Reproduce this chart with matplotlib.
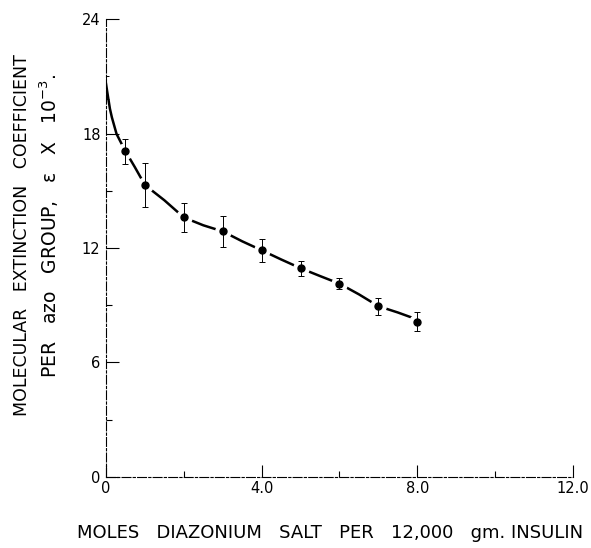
import matplotlib.pyplot as plt
import numpy as np

# Measured points (moles diazonium salt vs extinction coefficient x 10^-3)
moles = [0.0, 0.5, 1.0, 2.0, 3.0, 4.0, 5.0, 6.0, 7.0, 8.0]
eps = [20.4, 17.07, 15.3, 13.6, 12.87, 11.88, 10.94, 10.13, 8.95, 8.13]
eps_err = [0.6, 0.65, 1.15, 0.75, 0.8, 0.6, 0.4, 0.3, 0.45, 0.5]

# Smooth curve
curve_x = [0.0, 0.03, 0.1, 0.15, 0.27, 0.4, 0.5, 0.74, 1.0, 1.5, 2.0, 2.5, 3.0,
           3.5, 4.0, 4.5, 5.0, 5.5, 6.0, 6.5, 7.0, 7.5, 8.0]
curve_y = [20.6, 20.2, 19.3, 18.85, 17.98, 17.46, 17.07, 16.24, 15.3, 14.5, 13.6,
           13.19, 12.87, 12.35, 11.88, 11.4, 10.94, 10.53, 10.13, 9.57, 8.95, 8.62, 8.25]

xticks = [0, 4, 8, 12]
xtick_labels = ["0", "4.0", "8.0", "12.0"]
yticks = [0, 6, 12, 18, 24]

fig = plt.figure(figsize=(5.91, 5.48), dpi=100)
ax = fig.add_axes([0.1794, 0.1296, 0.7901, 0.8357])

ax.plot(curve_x, curve_y, color="black", linewidth=1.8, zorder=2)
# white halo so the curve breaks around each point
ax.plot(moles[1:], eps[1:], "o", color="white", markersize=11, zorder=3)
ax.errorbar(moles, eps, yerr=eps_err, fmt="none", ecolor="black",
            elinewidth=0.7, capsize=2.2, capthick=0.7, zorder=4)
ax.plot(moles[1:], eps[1:], "o", color="black", markersize=5, zorder=5)

ax.set_xlim(0, 12)
ax.set_ylim(0, 24)

for s in ["top", "right"]:
    ax.spines[s].set_visible(False)
for s in ["left", "bottom"]:
    ax.spines[s].set_linewidth(0.8)
    ax.spines[s].set_linestyle((0, (8, 2, 2, 2)))

ax.set_xticks(xticks)
ax.set_xticklabels(xtick_labels)
ax.set_xticks([2, 6, 10], minor=True)
ax.set_yticks(yticks)
ax.set_yticks([3, 9, 15], minor=True)
ax.tick_params(axis="both", which="major", direction="in", length=9,
               width=0.8, labelsize=10.5, pad=3)
ax.tick_params(axis="both", which="minor", direction="in", length=4, width=0.8)
ax.tick_params(axis="y", which="major", pad=4)

fig.text(0.038, 0.571, "MOLECULAR   EXTINCTION   COEFFICIENT", rotation=90,
         ha="center", va="center", fontsize=12.5)
fig.text(0.083, 0.587, "PER   azo   GROUP,   ε   X   10$^{-3}$.", rotation=90,
         ha="center", va="center", fontsize=13.5)
fig.text(0.558, 0.027, "MOLES   DIAZONIUM   SALT   PER   12,000   gm. INSULIN",
         ha="center", va="center", fontsize=13)

plt.savefig("out.png", dpi=100)
